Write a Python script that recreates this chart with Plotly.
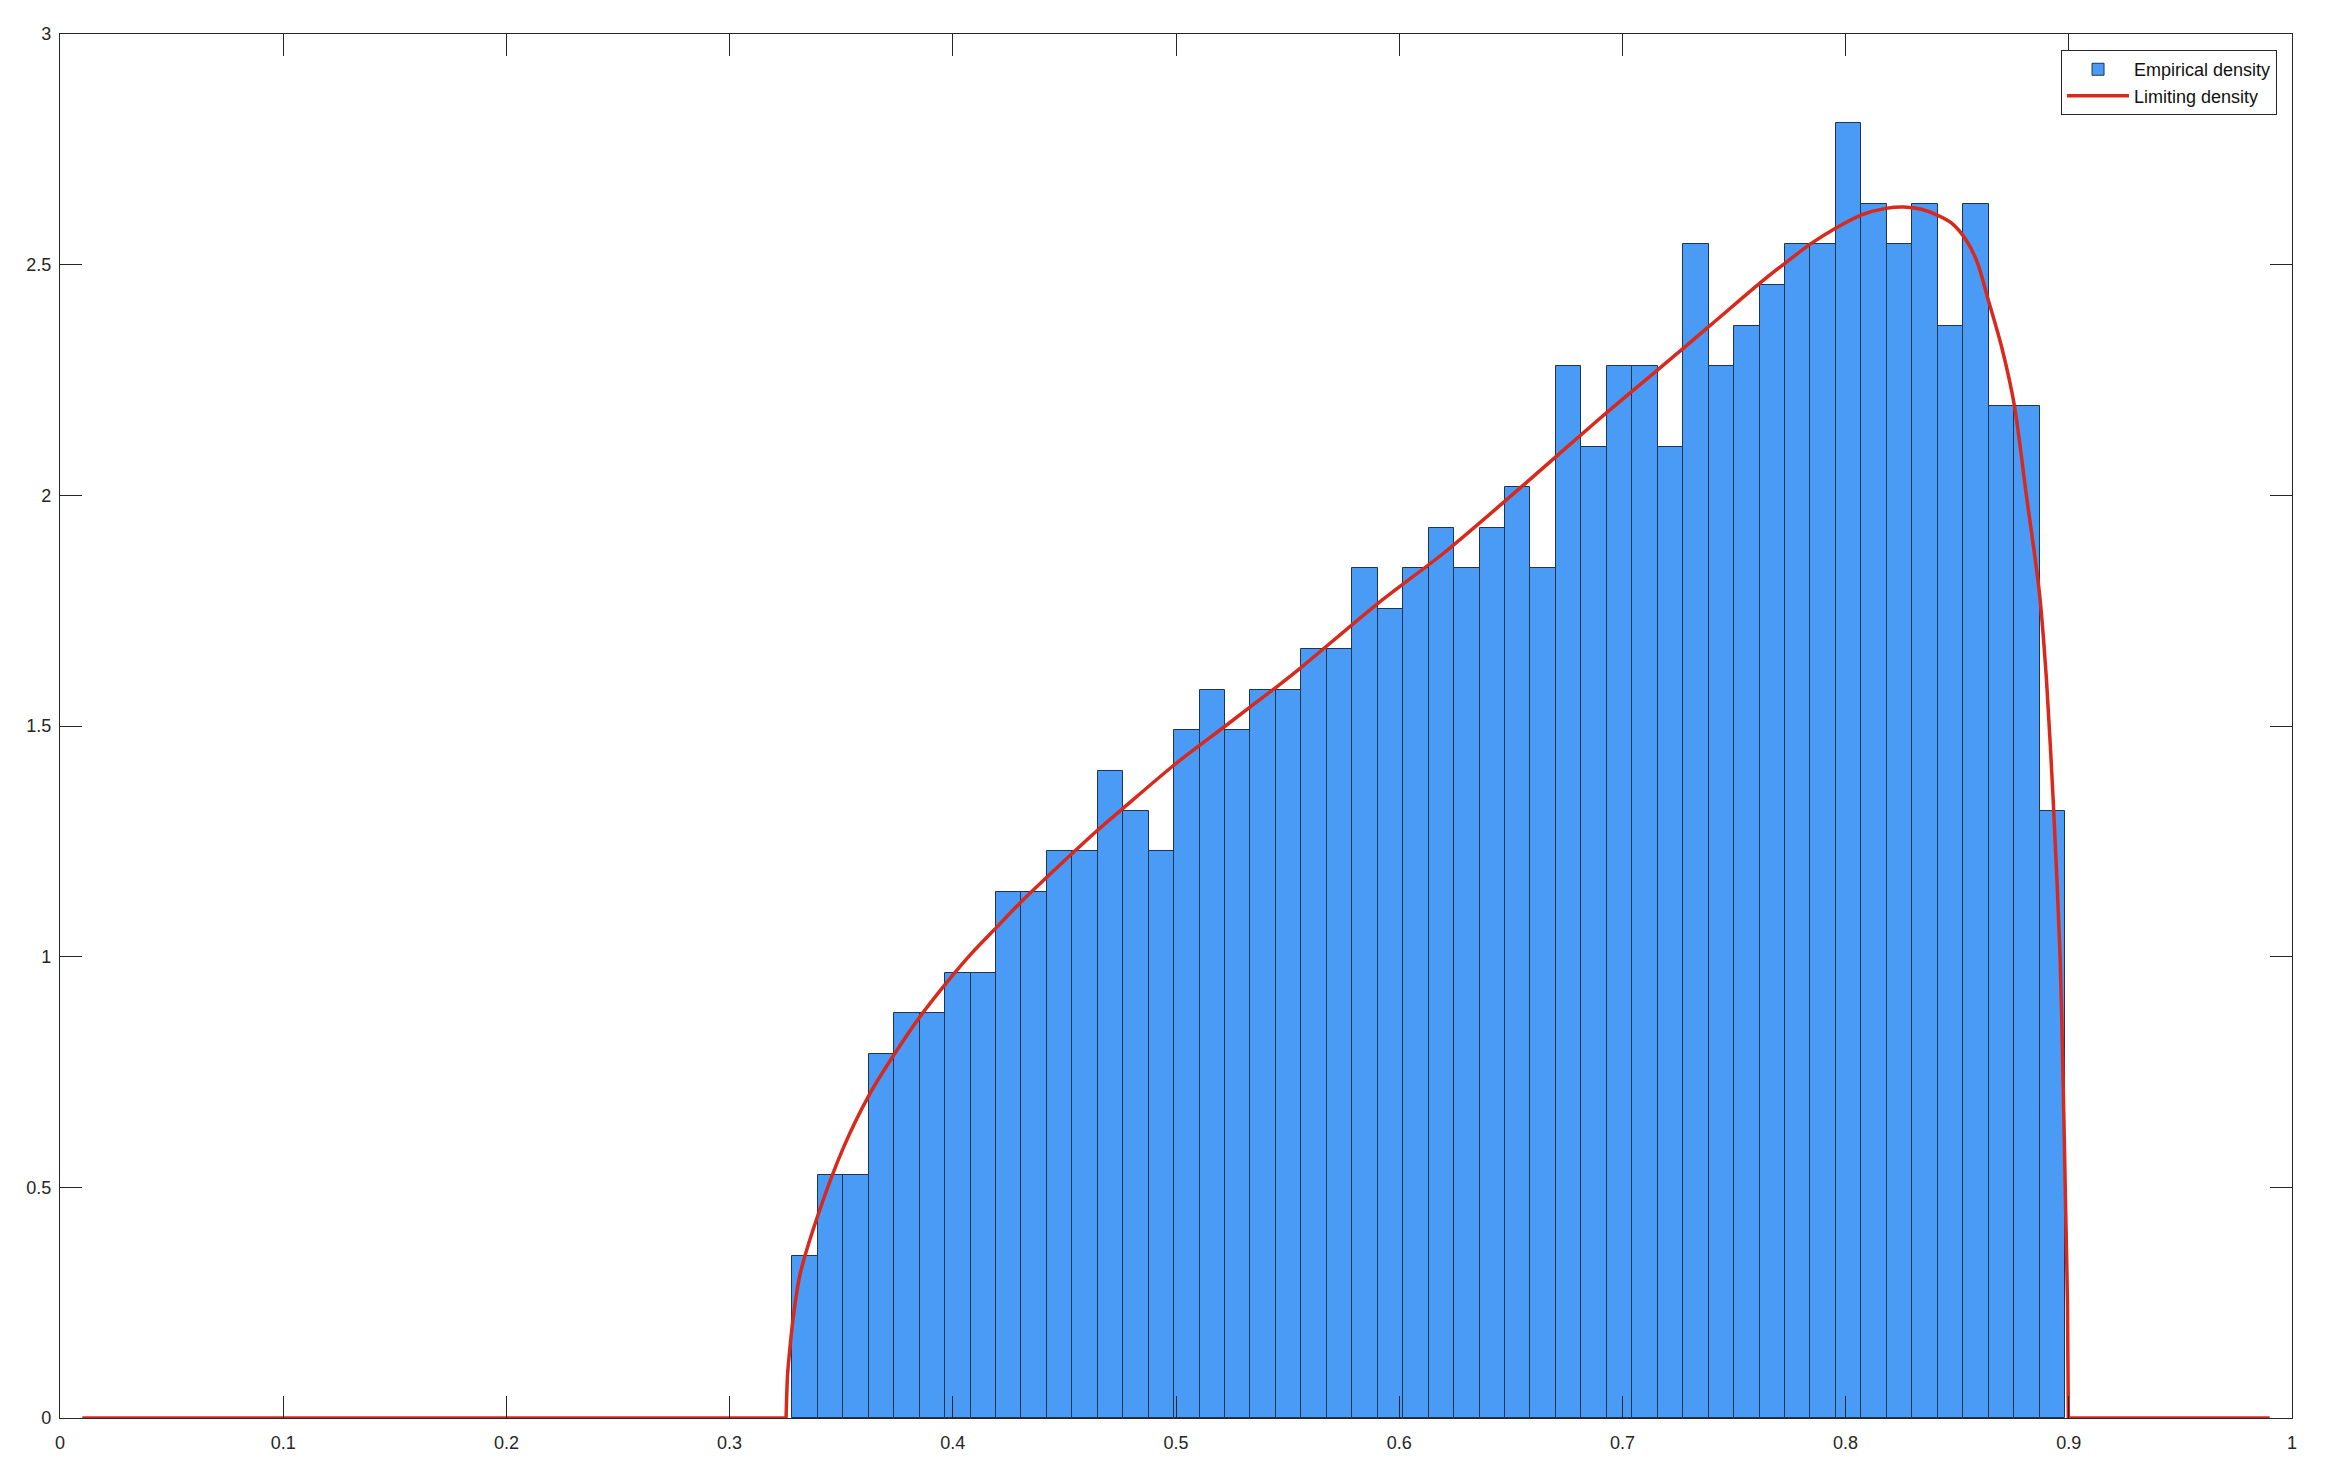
import plotly.graph_objects as go

# ---- Histogram data ----
bin_first_edge = 0.3281
bin_width = 0.011404
density = [0.351, 0.526, 0.526, 0.789, 0.877, 0.877, 0.965, 0.965, 1.140, 1.140,
           1.228, 1.228, 1.403, 1.316, 1.228, 1.491, 1.579, 1.491, 1.579, 1.579,
           1.667, 1.667, 1.842, 1.754, 1.842, 1.930, 1.842, 1.930, 2.018, 1.842,
           2.281, 2.105, 2.281, 2.281, 2.105, 2.544, 2.281, 2.368, 2.456, 2.544,
           2.544, 2.807, 2.632, 2.544, 2.632, 2.368, 2.632, 2.193, 2.193, 1.316]

# ---- Limiting density curve ----
flat_left_x = [0.01, 0.3253]
flat_left_y = [0.0, 0.0]
curve_x = [0.3253, 0.3260, 0.3270, 0.3283, 0.3315, 0.3396, 0.3509, 0.3625,
           0.3740, 0.3853, 0.3966, 0.4082, 0.4197, 0.4309, 0.4421, 0.4651, 0.4764,
           0.4993, 0.5221, 0.5451, 0.5556, 0.5905, 0.6200, 0.6480, 0.6900, 0.7158,
           0.7400, 0.7616, 0.7728, 0.7843, 0.7955, 0.8072, 0.8180, 0.8260, 0.8340,
           0.8408, 0.8475, 0.8542, 0.8590, 0.8639, 0.8700, 0.8755, 0.8810, 0.8868,
           0.8900, 0.8931, 0.8961, 0.8975, 0.8986, 0.8994, 0.8998]
curve_y = [0.0, 0.096, 0.15, 0.21, 0.31, 0.44, 0.585, 0.70,
           0.79, 0.87, 0.94, 1.006, 1.064, 1.12, 1.172, 1.275, 1.322,
           1.416, 1.50, 1.585, 1.625, 1.766, 1.875, 1.99, 2.167, 2.272,
           2.371, 2.46, 2.503, 2.545, 2.579, 2.608, 2.622, 2.625, 2.62,
           2.608, 2.59, 2.552, 2.505, 2.424, 2.32, 2.198, 2.0, 1.79,
           1.6, 1.33, 1.0, 0.72, 0.45, 0.25, 0.0]
flat_right_x = [0.8998, 0.99]
flat_right_y = [0.0, 0.0]

x_ticks = [0, 0.1, 0.2, 0.3, 0.4, 0.5, 0.6, 0.7, 0.8, 0.9, 1]
x_tick_text = ["0", "0.1", "0.2", "0.3", "0.4", "0.5", "0.6", "0.7", "0.8", "0.9", "1"]
y_ticks = [0, 0.5, 1, 1.5, 2, 2.5, 3]
y_tick_text = ["0", "0.5", "1", "1.5", "2", "2.5", "3"]

RED = "#D9291C"
FONT = "Liberation Sans, Arial, Helvetica, sans-serif"

bin_centers = [bin_first_edge + (i + 0.5) * bin_width for i in range(len(density))]

fig = go.Figure()
fig.add_trace(go.Bar(
    x=bin_centers, y=density, width=[bin_width] * len(density),
    name="Empirical density",
    marker=dict(color="#4A9BF5", line=dict(color="#1E3550", width=1)),
))
fig.add_trace(go.Scatter(
    x=curve_x, y=curve_y, mode="lines", name="Limiting density",
    line=dict(color=RED, width=3.5, shape="spline", smoothing=0.8),
    legendgroup="lim",
))
fig.add_trace(go.Scatter(
    x=flat_left_x, y=flat_left_y, mode="lines", showlegend=False,
    line=dict(color=RED, width=3.5), legendgroup="lim",
))
fig.add_trace(go.Scatter(
    x=flat_right_x, y=flat_right_y, mode="lines", showlegend=False,
    line=dict(color=RED, width=3.5), legendgroup="lim",
))

axis_common = dict(
    showline=True, linecolor="#262626", linewidth=1.3, mirror="ticks",
    ticks="inside", ticklen=22, tickwidth=1, tickcolor="#262626",
    showgrid=False, zeroline=False,
    tickfont=dict(family=FONT, size=18, color="#262626"),
)

fig.update_layout(
    width=2338, height=1470,
    margin=dict(l=60, r=46, t=34, b=52),
    paper_bgcolor="white", plot_bgcolor="white",
    bargap=0,
    showlegend=True,
    legend=dict(
        x=0.9933, y=0.9884, xanchor="right", yanchor="top",
        bgcolor="white", bordercolor="#262626", borderwidth=1,
        font=dict(family=FONT, size=18, color="#111111"),
        tracegroupgap=0, itemwidth=62,
    ),
    xaxis=dict(range=[0, 1], tickvals=x_ticks, ticktext=x_tick_text, ticklabelstandoff=8, **axis_common),
    yaxis=dict(range=[0, 3], tickvals=y_ticks, ticktext=y_tick_text, ticklabelstandoff=4, **axis_common),
)

fig.write_html("out.html", config={"displayModeBar": False},
               post_script="document.body.style.margin='0';")
